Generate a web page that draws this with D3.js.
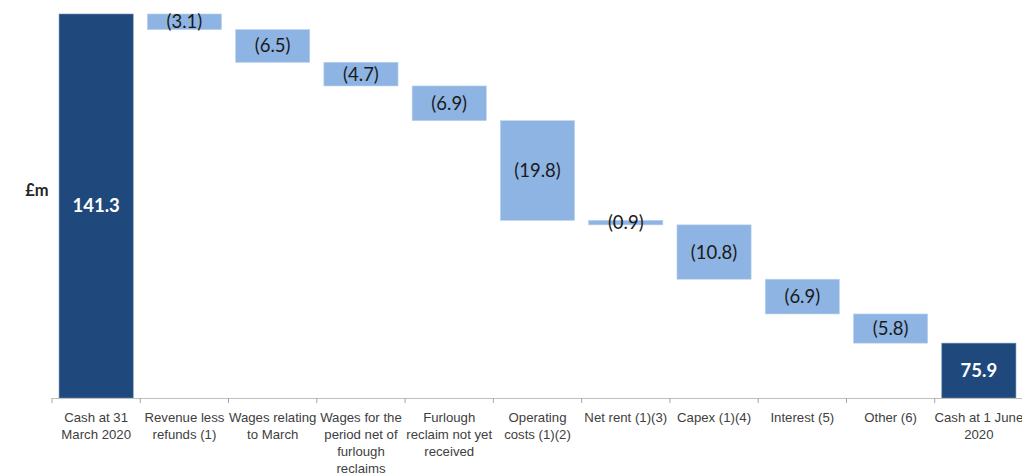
<!DOCTYPE html>
<html>
<head>
<meta charset="utf-8">
<script src="https://cdn.jsdelivr.net/npm/d3@7"></script>
<style>
  body { margin: 0; background: #fff; }
  svg { display: block; font-family: Lato, "Open Sans", sans-serif; }
</style>
</head>
<body>
<div id="chart"></div>
<script>
// Cash bridge waterfall

// Categories ("|" marks a line break in the axis label)
const categories = [
  "Cash at 31|March 2020",
  "Revenue less|refunds (1)",
  "Wages relating|to March",
  "Wages for the|period net of|furlough|reclaims",
  "Furlough|reclaim not yet|received",
  "Operating|costs (1)(2)",
  "Net rent (1)(3)",
  "Capex (1)(4)",
  "Interest (5)",
  "Other (6)",
  "Cash at 1 June|2020"
];
// Values in £m; totals are absolute, the rest are movements
const values = [141.3, -3.1, -6.5, -4.7, -6.9, -19.8, -0.9, -10.8, -6.9, -5.8, 75.9];
const isTotal = [true, false, false, false, false, false, false, false, false, false, true];
const yDomain = [65, 141.3];

const width = 1022, height = 473;
const plot = { left: 52, right: 1023, top: 14, bottom: 398 };

// Build waterfall segments
let running = 0;
const bars = categories.map((c, i) => {
  let y0, y1;
  if (isTotal[i]) {
    y0 = yDomain[0];
    y1 = values[i];
    running = values[i];
  } else {
    y0 = running;
    y1 = running + values[i];
    running = y1;
  }
  return { cat: c, v: values[i], total: isTotal[i], lo: Math.min(y0, y1), hi: Math.max(y0, y1) };
});

const svg = d3.select("#chart").append("svg")
  .attr("width", width)
  .attr("height", height);

const x = d3.scaleBand()
  .domain(categories)
  .range([plot.left, plot.right])
  .paddingInner(0.16)
  .paddingOuter(0.08);

const y = d3.scaleLinear()
  .domain(yDomain)
  .range([plot.bottom, plot.top]);

// Bars
svg.selectAll(".bar")
  .data(bars)
  .join("rect")
  .attr("class", "bar")
  .attr("x", d => x(d.cat))
  .attr("y", d => y(d.hi))
  .attr("width", x.bandwidth())
  .attr("height", d => Math.max(3, y(d.lo) - y(d.hi)))
  .attr("fill", d => d.total ? "#1f497d" : "#8db4e2")
  .attr("stroke", d => d.total ? "#6f8fb5" : "#b9d1ee")
  .attr("stroke-width", 0.6);

// Value labels
svg.selectAll(".val")
  .data(bars)
  .join("text")
  .attr("class", "val")
  .attr("x", d => x(d.cat) + x.bandwidth() / 2)
  .attr("y", d => (y(d.lo) + y(d.hi)) / 2)
  .attr("dy", "0.35em")
  .attr("text-anchor", "middle")
  .style("font-size", "18.5px")
  .style("font-weight", d => d.total ? "bold" : "normal")
  .style("fill", d => d.total ? "#ffffff" : "#1a1a1a")
  .text(d => d.total ? d.v.toFixed(1) : `(${Math.abs(d.v).toFixed(1)})`);

// X axis
const axis = svg.append("g")
  .attr("transform", `translate(0,${plot.bottom})`)
  .call(d3.axisBottom(x).tickSize(0).tickSizeOuter(0).tickFormat(""));
axis.select(".domain").attr("stroke", "#bfbfbf");

const step = x.step();
axis.selectAll(".tick").append("line")
  .attr("x1", -step / 2).attr("x2", -step / 2)
  .attr("y1", 0).attr("y2", 5)
  .attr("stroke", "#a6a6a6");

axis.selectAll(".tick text").remove();
axis.selectAll(".tick").append("text")
  .attr("fill", "#404040")
  .attr("text-anchor", "middle")
  .style("font-size", "13.2px")
  .each(function (d) {
    const t = d3.select(this);
    d.split("|").forEach((line, i) => {
      t.append("tspan")
        .attr("x", 0)
        .attr("y", 24 + i * 17)
        .text(line);
    });
  });

// Y label
svg.append("text")
  .attr("x", 37)
  .attr("y", 190)
  .attr("dy", "0.35em")
  .attr("text-anchor", "middle")
  .style("font-size", "16.5px")
  .style("font-weight", "bold")
  .style("fill", "#262626")
  .text("£m");
</script>
</body>
</html>
